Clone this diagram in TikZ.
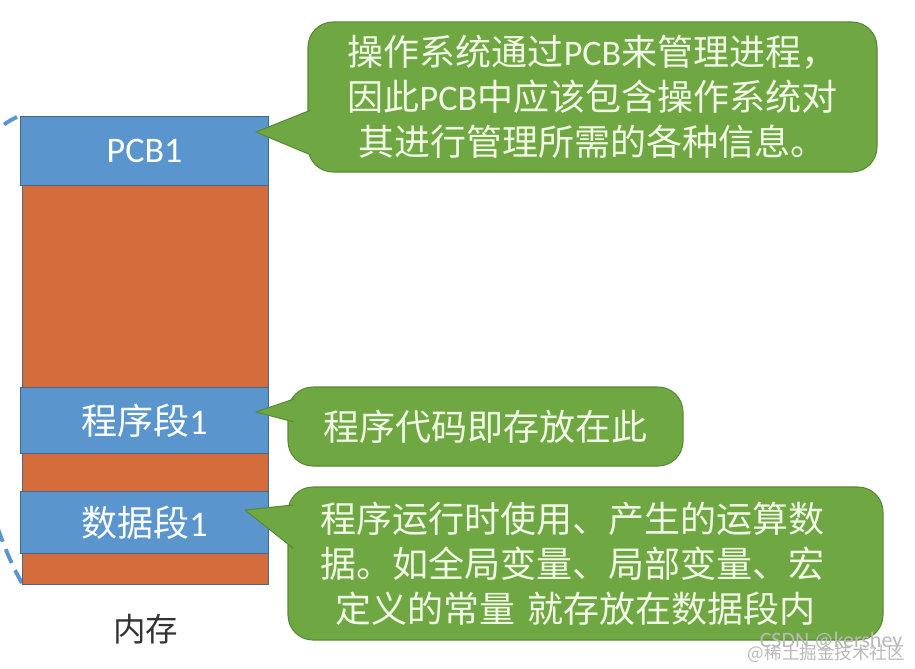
\documentclass[tikz,border=0pt]{standalone}
\usepackage{fontspec}
\setmainfont{Carlito}
\newfontfamily\cjk{Noto Sans CJK SC}
\newfontfamily\lat{Carlito}
\definecolor{memblue}{HTML}{5B95CD}
\definecolor{memorange}{HTML}{D46C3C}
\definecolor{segline}{HTML}{46678A}
\definecolor{callgreen}{HTML}{6FA843}
\definecolor{greenline}{HTML}{578A35}
\definecolor{calltext}{HTML}{F2F8E6}
\definecolor{ink}{HTML}{333333}
\usetikzlibrary{positioning}

\begin{document}
\begin{tikzpicture}[every node/.style={font=\cjk\fontsize{20.5}{25.6}\selectfont}]
\tikzstyle{mem}=[draw=segline,line width=0.6pt,fill=memorange,minimum width=4.92cm,minimum height=9.36cm,anchor=north west,inner sep=0pt]
\tikzstyle{seg}=[draw=segline,line width=0.6pt,fill=memblue,text=white,minimum width=4.96cm,anchor=north west,inner sep=0pt]
\tikzstyle{callout}=[rounded corners=0.5cm,draw=greenline,line width=0.6pt,fill=callgreen,text=calltext,align=center,inner sep=0pt]
\tikzstyle{tail}=[fill=callgreen]
\tikzstyle{tailline}=[draw=greenline,line width=0.6pt,line join=round]
\clip (0,0) rectangle (18.3,-13.36);
\draw[memblue,line width=2.2pt,dash pattern=on 0.3cm off 0.16cm] (0.34,-2.34) .. controls (-2,-3.4) and (-0.6,-9.9) .. (0.44,-11.66);
\node[mem] (mem) at (0.44,-2.32) {};
\node[seg,minimum height=1.38cm] (pcb) at (0.40,-2.32) {\lat PCB1};
\node[seg,minimum height=1.32cm] (prog) at (0.40,-7.74) {程序段{\lat 1}};
\node[seg,minimum height=1.24cm] (data) at (0.40,-9.82) {数据段{\lat 1}};
\node[text=ink,font=\cjk\fontsize{18.5}{22}\selectfont,below=0.45cm of mem] (memlabel) {内存};
\node[callout,minimum width=11.38cm,minimum height=3cm] (pcbnote) at (11.85,-1.94) {操作系统通过{\lat PCB}来管理进程，\\因此{\lat PCB}中应该包含操作系统对\\其进行管理所需的各种信息。};
\node[callout,minimum width=7.9cm,minimum height=1.58cm] (prognote) at (9.71,-8.53) {程序代码即存放在此};
\node[callout,minimum width=11.9cm,minimum height=3.06cm,text width=10.6cm,align=left] (datanote) at (11.71,-11.27) {程序运行时使用、产生的运算数\\据。如全局变量、局部变量、宏\\\hspace*{0.3cm}定义的常量 就存放在数据段内};
\coordinate (pcbtip) at (5.12,-2.64);
\coordinate (progtip) at (5.12,-8.24);
\coordinate (datatip) at (4.9,-10.2);
\fill[tail] (6.22,-2.2) -- (pcbtip) -- (6.22,-3.1) -- cycle;
\draw[tailline] (6.22,-2.2) -- (pcbtip) -- (6.22,-3.1);
\fill[tail] (5.88,-7.98) -- (progtip) -- (5.88,-8.44) -- cycle;
\draw[tailline] (5.88,-7.98) -- (progtip) -- (5.88,-8.44);
\fill[tail] (5.86,-10.1) -- (datatip) -- (5.86,-10.96) -- cycle;
\draw[tailline] (5.86,-10.1) -- (datatip) -- (5.86,-10.96);
\node[text=gray!55,font=\lat\fontsize{12.5}{14}\selectfont] (mark) at (16.62,-12.84) {CSDN @kershey};
\node[text=gray!55,font=\cjk\fontsize{10}{12}\selectfont] (mark2) at (16.53,-13.08) {@稀土掘金技术社区};
\end{tikzpicture}
\end{document}
